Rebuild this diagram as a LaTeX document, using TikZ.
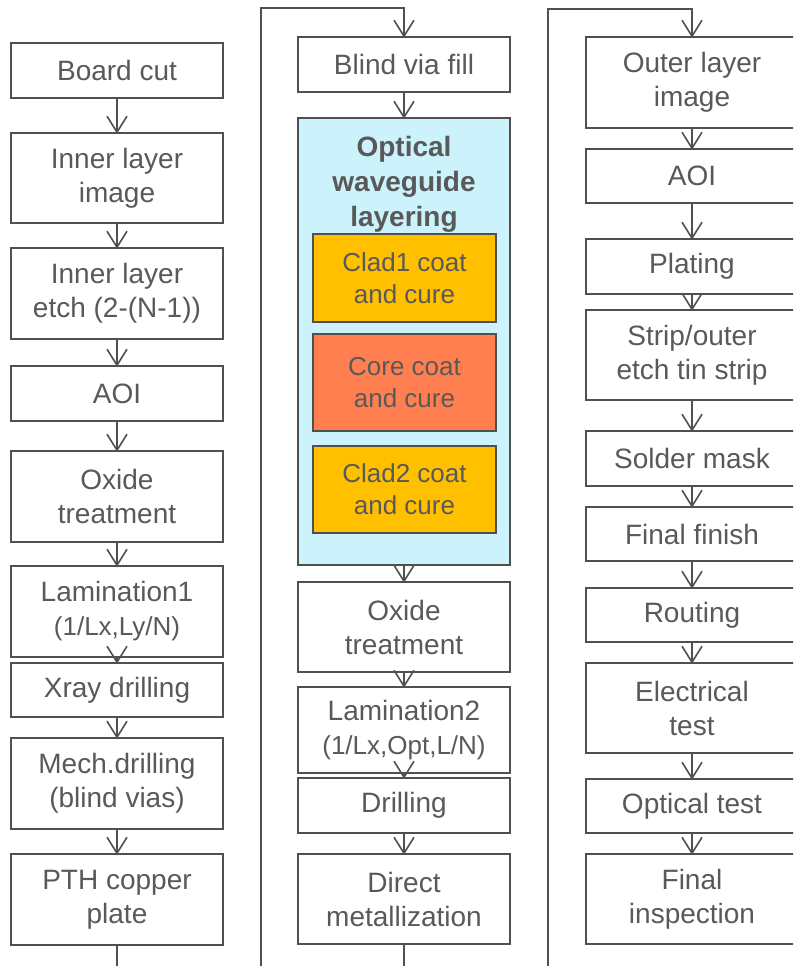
\documentclass[tikz,border=0pt]{standalone}
\usepackage{fontspec}
\setmainfont{Liberation Sans}
\usetikzlibrary{calc}
\definecolor{txtgray}{HTML}{595959}
\definecolor{linegray}{HTML}{505050}
\definecolor{optcyan}{HTML}{CCF2FC}
\definecolor{cladyel}{HTML}{FFC000}
\definecolor{corecor}{HTML}{FF7F50}
\tikzset{
  box/.style={draw=linegray, line width=1.6pt, fill=white, text=txtgray, align=center,
    minimum width=212pt, inner sep=2pt, font=\fontsize{28}{34}\selectfont},
  sub/.style={draw=linegray, line width=1.6pt, text=txtgray, align=center,
    minimum width=183pt, inner sep=2pt, font=\fontsize{26}{32}\selectfont},
  conn/.style={draw=linegray, line width=1.6pt},
}
\newcommand{\flowarr}[2]{%
  \draw[conn] (#1.south) -- (#2.north);
  \draw[conn] ($(#2.north)+(-10,-16)$) -- (#2.north) -- ($(#2.north)+(10,-16)$);}
\newcommand{\smalltxt}[1]{{\fontsize{26}{32}\selectfont #1}}
\begin{document}
\begin{tikzpicture}[x=1pt,y=-1pt]
\useasboundingbox (0,0) rectangle (793,966);
\fill[white] (0,0) rectangle (793,966);
\clip (0,0) rectangle (793,966);

% Left column
\node[box, minimum height=55pt] (bc)   at (117,70.5)  {Board cut};
\node[box, minimum height=90pt] (ili)  at (117,178)   {Inner layer\\image};
\node[box, minimum height=91pt] (ile)  at (117,293.5) {Inner layer\\etch (2-(N-1))};
\node[box, minimum height=55pt] (aoi1) at (117,393.5) {AOI};
\node[box, minimum height=91pt] (ox1)  at (117,496.5) {Oxide\\treatment};
\node[box, minimum height=91pt] (lam1) at (117,611.5) {Lamination1\\\smalltxt{(1/Lx,Ly/N)}};
\node[box, minimum height=54pt] (xray) at (117,690)   {Xray drilling};
\node[box, minimum height=91pt] (mech) at (117,783.5) {Mech.drilling\\(blind vias)};
\node[box, minimum height=91pt] (pth)  at (117,899.5) {PTH copper\\plate};

% Middle column
\node[box, minimum height=55pt] (bvf)  at (404,64.5)  {Blind via fill};
\node[box, fill=optcyan, minimum height=447pt] (opt) at (404,341.5) {};
\node[text=txtgray, align=center, inner sep=0pt, anchor=north,
      font=\fontsize{28}{35}\selectfont\bfseries] (optt) at (404,136.5)
      {Optical\\waveguide\\layering};
\node[sub, fill=cladyel, minimum height=88pt] (clad1) at (404.5,278)   {Clad1 coat\\and cure};
\node[sub, fill=corecor, minimum height=97pt] (core)  at (404.5,382.5) {Core coat\\and cure};
\node[sub, fill=cladyel, minimum height=87pt] (clad2) at (404.5,489.5) {Clad2 coat\\and cure};
\node[box, minimum height=90pt] (ox2)  at (404,627)   {Oxide\\treatment};
\node[box, minimum height=86pt] (lam2) at (404,730)   {Lamination2\\\smalltxt{(1/Lx,Opt,L/N)}};
\node[box, minimum height=55pt] (dril) at (404,805.5) {Drilling};
\node[box, minimum height=90pt] (dm)   at (404,899)   {Direct\\metallization};

% Right column
\node[box, minimum height=91pt] (oli)  at (692,82.5)  {Outer layer\\image};
\node[box, minimum height=54pt] (aoi2) at (692,176)   {AOI};
\node[box, minimum height=55pt] (plat) at (692,266.5) {Plating};
\node[box, minimum height=90pt] (strip) at (692,355)  {Strip/outer\\etch tin strip};
\node[box, minimum height=55pt] (sm)   at (692,458.5) {Solder mask};
\node[box, minimum height=54pt] (ff)   at (692,534)   {Final finish};
\node[box, minimum height=54pt] (rout) at (692,615)   {Routing};
\node[box, minimum height=90pt] (et)   at (692,708)   {Electrical\\test};
\node[box, minimum height=54pt] (ot)   at (692,806)   {Optical test};
\node[box, minimum height=90pt] (fi)   at (692,899)   {Final\\inspection};

% Left column arrows
\flowarr{bc}{ili}
\flowarr{ili}{ile}
\flowarr{ile}{aoi1}
\flowarr{aoi1}{ox1}
\flowarr{ox1}{lam1}
\flowarr{lam1}{xray}
\flowarr{xray}{mech}
\flowarr{mech}{pth}

% Link left -> middle (runs below the visible area)
\coordinate (topm) at (261,8);
\draw[conn] (pth.south) -- (117,1000) -- (261,1000) -- (topm) -| (bvf.north);
\draw[conn] ($(bvf.north)+(-10,-16)$) -- (bvf.north) -- ($(bvf.north)+(10,-16)$);

% Middle column arrows
\flowarr{bvf}{opt}
\flowarr{opt}{ox2}
\flowarr{ox2}{lam2}
\flowarr{lam2}{dril}
\flowarr{dril}{dm}

% Link middle -> right
\coordinate (topr) at (548,9);
\draw[conn] (dm.south) -- (404,1000) -- (548,1000) -- (topr) -| (oli.north);
\draw[conn] ($(oli.north)+(-10,-16)$) -- (oli.north) -- ($(oli.north)+(10,-16)$);

% Right column arrows
\flowarr{oli}{aoi2}
\flowarr{aoi2}{plat}
\flowarr{plat}{strip}
\flowarr{strip}{sm}
\flowarr{sm}{ff}
\flowarr{ff}{rout}
\flowarr{rout}{et}
\flowarr{et}{ot}
\flowarr{ot}{fi}
\end{tikzpicture}
\end{document}
